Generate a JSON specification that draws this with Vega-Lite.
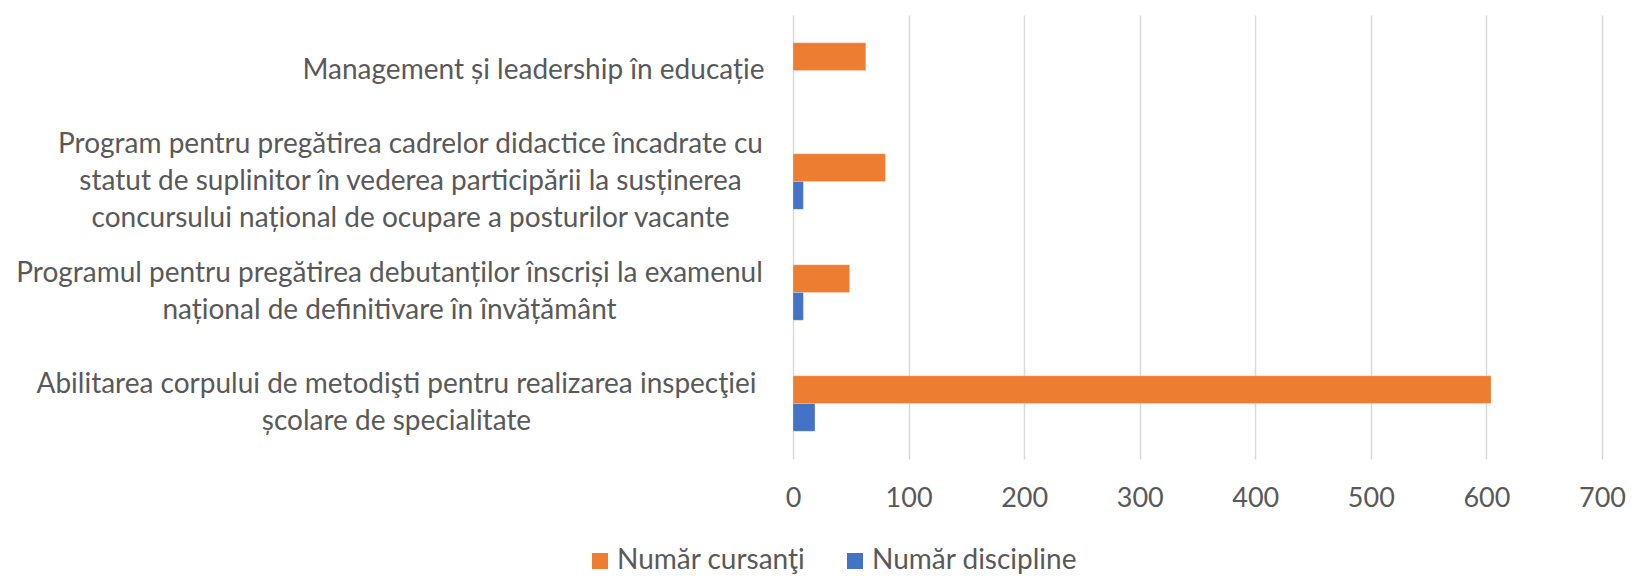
{
  "$schema": "https://vega.github.io/schema/vega-lite/v6.json",
  "autosize": {"type": "none"},
  "padding": {"left": 793, "top": 15, "right": 29, "bottom": 118},
  "width": 809,
  "height": 444,
  "background": "white",
  "config": {
    "view": {"stroke": null},
    "font": "Lato",
    "text": {"font": "Lato"}
  },
  "data": {
    "values": [
      {"program": "Management și leadership în educație", "serie": "Număr cursanţi", "valoare": 63},
      {"program": "Program pentru pregătirea cadrelor didactice încadrate cu\nstatut de suplinitor în vederea participării la susținerea\nconcursului național de ocupare a posturilor vacante", "serie": "Număr cursanţi", "valoare": 80},
      {"program": "Program pentru pregătirea cadrelor didactice încadrate cu\nstatut de suplinitor în vederea participării la susținerea\nconcursului național de ocupare a posturilor vacante", "serie": "Număr discipline", "valoare": 9},
      {"program": "Programul pentru pregătirea debutanților înscriși la examenul\nnațional de definitivare în învățământ", "serie": "Număr cursanţi", "valoare": 49},
      {"program": "Programul pentru pregătirea debutanților înscriși la examenul\nnațional de definitivare în învățământ", "serie": "Număr discipline", "valoare": 9},
      {"program": "Abilitarea corpului de metodişti pentru realizarea inspecţiei\nșcolare de specialitate", "serie": "Număr cursanţi", "valoare": 604},
      {"program": "Abilitarea corpului de metodişti pentru realizarea inspecţiei\nșcolare de specialitate", "serie": "Număr discipline", "valoare": 19}
    ]
  },
  "mark": {"type": "bar", "stroke": "white", "strokeOpacity": 0.5, "strokeWidth": 0.5},
  "encoding": {
    "y": {
      "field": "program",
      "type": "nominal",
      "sort": null,
      "scale": {"paddingInner": 0.5, "paddingOuter": 0.25},
      "axis": {
        "title": null,
        "ticks": false,
        "tickSize": 0,
        "domain": false,
        "labelExpr": "split(datum.label, '\\n')",
        "labelAlign": "center",
        "labelBaseline": "middle",
        "labelFont": "Lato",
        "labelFontSize": 28,
        "labelColor": "#595959",
        "labelLineHeight": 37,
        "labelLimit": 1000,
        "labelOffset": {
          "condition": [
            {"test": "indexof(datum.value, 'Management') == 0", "value": 0},
            {"test": "indexof(datum.value, 'Program pentru') == 0", "value": -37}
          ],
          "value": -18.5
        },
        "labelPadding": {
          "condition": [
            {"test": "indexof(datum.value, 'Management') == 0", "value": 260},
            {"test": "indexof(datum.value, 'Programul') == 0", "value": 404},
            {"test": "indexof(datum.value, 'Abilitarea') == 0", "value": 397}
          ],
          "value": 383
        }
      }
    },
    "yOffset": {
      "field": "serie",
      "type": "nominal",
      "scale": {"domain": ["Număr cursanţi", "Număr discipline"], "paddingInner": 0, "paddingOuter": 0}
    },
    "x": {
      "field": "valoare",
      "type": "quantitative",
      "scale": {"domain": [0, 700], "nice": false},
      "axis": {
        "title": null,
        "values": [0, 100, 200, 300, 400, 500, 600, 700],
        "ticks": false,
        "domain": false,
        "grid": true,
        "gridColor": "#d9d9d9",
        "gridWidth": 1.5,
        "labelFont": "Lato",
        "labelFontSize": 27,
        "labelColor": "#595959",
        "labelPadding": 26,
        "labelFlush": false
      }
    },
    "color": {
      "field": "serie",
      "type": "nominal",
      "scale": {"domain": ["Număr cursanţi", "Număr discipline"], "range": ["#ED7D31", "#4472C4"]},
      "legend": {
        "title": null,
        "orient": "none",
        "direction": "horizontal",
        "legendX": -207,
        "legendY": 532,
        "symbolType": "square",
        "symbolSize": 256,
        "symbolStrokeWidth": 0,
        "labelFont": "Lato",
        "labelFontSize": 28,
        "labelColor": "#595959",
        "labelLimit": 1000,
        "columnPadding": 35,
        "labelOffset": 3
      }
    }
  }
}
